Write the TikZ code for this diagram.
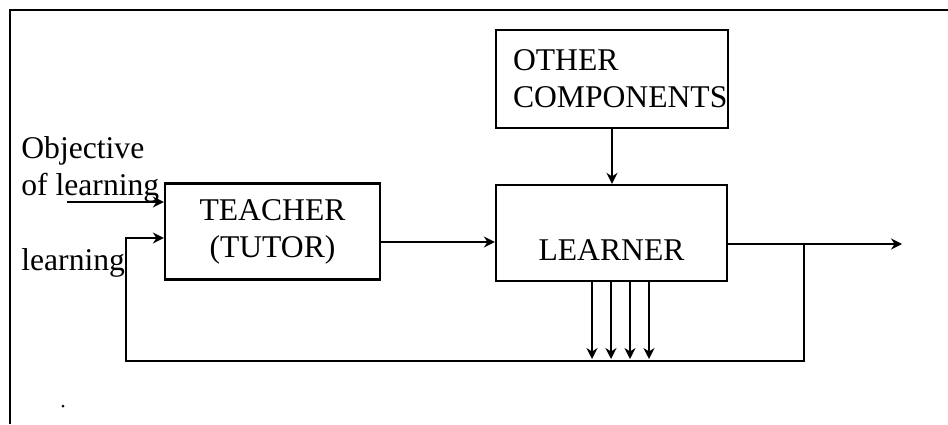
\documentclass[tikz,border=0pt]{standalone}
\usepackage{fontspec}
\setmainfont{Liberation Serif}
\usepackage{tikz}
\usetikzlibrary{arrows.meta}
\tikzstyle{arrow} = [line width=1.3pt,-{Stealth[length=2.2mm,width=2.2mm]}]
\tikzstyle{block} = [draw, line width=1.3pt, minimum width=4.3cm, minimum height=1.92cm, align=center]
\tikzstyle{txt} = [align=left, inner sep=0pt]

\begin{document}
\begin{tikzpicture}[font=\fontsize{18}{21}\selectfont]
\useasboundingbox (0,0) rectangle (18.96,8.48);
% outer frame
\draw[line width=1.6pt] (0.2,0) -- (0.2,8.28) -- (18.96,8.28);

\node[block] (teacher) at (5.45,3.85) {TEACHER\\(TUTOR)};
\node[block, minimum width=4.62cm] (learner) at (12.23,3.82) {};
\node[txt, anchor=base] (learnertext) at (12.23,3.28) {LEARNER};
\node[block, minimum width=4.64cm, minimum height=1.96cm, inner sep=0pt, text width=3.96cm, align=left] (other) at (12.24,6.9) {OTHER\\COMPONENTS};

% base is the last line here
\node[txt, anchor=base west] (objective) at (0.42,4.58) {Objective\\of learning};
\node[txt, anchor=base west] (fbtext) at (0.42,3.08) {learning};

\coordinate (objstart) at (1.34,4.44);
\coordinate (fbtop) at (2.52,3.72);
\coordinate (fbcorner) at (2.52,1.26);
\coordinate (tl) at (0,3.64);
\coordinate (tap) at (16.08,3.6);
\coordinate (outend) at (18.04,3.6);

\draw[arrow] (objstart) -- (objstart -| teacher.west);
\draw[arrow] (teacher.east |- tl) -- (learner.west |- tl);
\draw[arrow] (other.south) -- (other.south |- learner.north);
\draw[arrow] (learner.east |- tap) -- (outend);
% feedback loop
\draw[arrow] (tap) |- (fbcorner) -- (fbtop) -- (fbtop -| teacher.west);
\foreach \x in {11.84,12.22,12.6,12.98}
  \draw[arrow] (\x,0 |- learner.south) -- (\x,1.3);

\fill (1.26,0.36) circle (0.03);
\end{tikzpicture}
\end{document}
